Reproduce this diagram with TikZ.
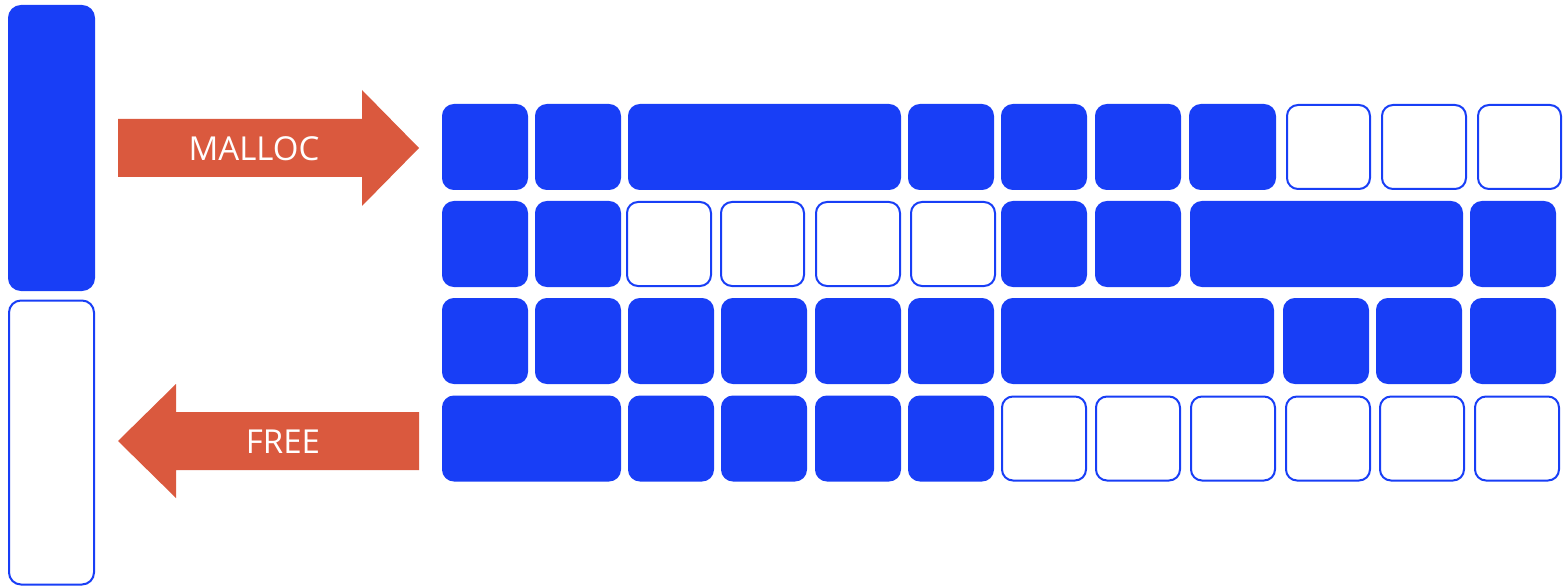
\documentclass[tikz,border=0pt]{standalone}
\usepackage{fontspec}
\usepackage{tikz}
\usetikzlibrary{positioning}
\newfontfamily\labelfont{Open Sans}
\definecolor{blk}{RGB}{24,62,246}
\definecolor{arrorange}{RGB}{218,89,62}

\begin{document}
\begin{tikzpicture}[x=1pt,y=-1pt,
  cell/.style={draw=blk,line width=2pt,rounded corners=11pt,inner sep=0pt,minimum height=84pt},
  bar/.style={draw=blk,line width=2pt,rounded corners=12pt,inner sep=0pt,minimum width=85pt,minimum height=284pt},
  arrtext/.style={text=white,font=\labelfont\fontsize{33}{40}\selectfont}]
\useasboundingbox (0,0) rectangle (1564,588);
% memory pool on the left
\node[bar,fill=blk]   (pool)  at (51.5,148)   {};
\node[bar,fill=white] (spare) at (51.5,442.5) {};
% arrows
\fill[arrorange] (118,119) -- (362,119) -- (362,90) -- (419,148) -- (362,206) -- (362,177) -- (118,177) -- cycle;
\node[arrtext] (malloc) at (254,149) {MALLOC};
\fill[arrorange] (419,412) -- (176,412) -- (176,384) -- (118,441) -- (176,498) -- (176,470) -- (419,470) -- cycle;
\node[arrtext] (free) at (283,442) {FREE};
% heap blocks, one row at a time
\foreach \xa/\xb/\fc [count=\i] in {442/528/blk,535/621/blk,628/901/blk,908/994/blk,1001/1087/blk,
    1095/1181/blk,1189/1276/blk,1286/1371/white,1381/1467/white,1477/1562/white}
  \node[cell,fill=\fc,minimum width=(\xb-\xa-2)*1pt] (ra\i) at ({(\xa+\xb)/2},147) {};
\foreach \xa/\xb/\fc [count=\i] in {442/528/blk,535/621/blk,626/712/white,720/805/white,815/901/white,
    910/996/white,1001/1087/blk,1095/1181/blk,1190/1463/blk,1470/1556/blk}
  \node[cell,fill=\fc,minimum width=(\xb-\xa-2)*1pt] (rb\i) at ({(\xa+\xb)/2},244) {};
\foreach \xa/\xb/\fc [count=\i] in {442/528/blk,535/621/blk,628/714/blk,721/807/blk,815/901/blk,
    908/994/blk,1001/1274/blk,1283/1369/blk,1376/1462/blk,1470/1556/blk}
  \node[cell,fill=\fc,minimum width=(\xb-\xa-2)*1pt] (rc\i) at ({(\xa+\xb)/2},341) {};
\foreach \xa/\xb/\fc [count=\i] in {442/621/blk,628/714/blk,721/807/blk,815/901/blk,908/994/blk,
    1001/1087/white,1095/1181/white,1190/1276/white,1285/1371/white,1379/1465/white,1474/1560/white}
  \node[cell,fill=\fc,minimum width=(\xb-\xa-2)*1pt] (rd\i) at ({(\xa+\xb)/2},438.5) {};
\end{tikzpicture}
\end{document}
